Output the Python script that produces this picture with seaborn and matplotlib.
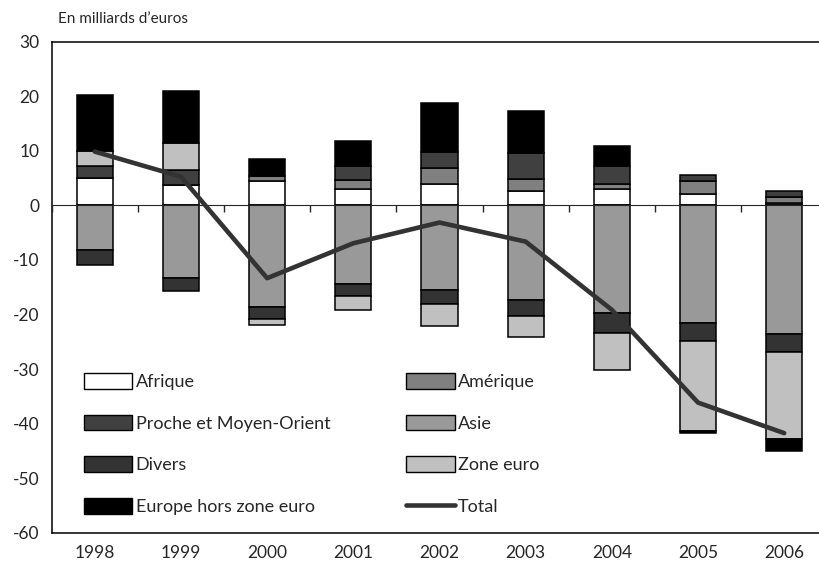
import numpy as np
import matplotlib
matplotlib.use('Agg')
import matplotlib.pyplot as plt
from matplotlib.patches import Patch
from matplotlib.lines import Line2D
import seaborn as sns

# données (en milliards d'euros)
years = ['1998', '1999', '2000', '2001', '2002', '2003', '2004', '2005', '2006']
afrique = [5.1, 3.7, 4.5, 3.0, 3.9, 2.6, 3.0, 2.1, 0.5]
amerique = [0.0, 0.0, 0.8, 1.65, 2.9, 2.3, 0.9, 2.4, 1.0]
proche_orient = [2.1, 2.75, 0.0, 2.6, 3.0, 4.7, 3.35, 1.05, 1.2]
asie = [-8.2, -13.25, -18.6, -14.4, -15.6, -17.3, -19.8, -21.6, -23.6]
divers = [-2.75, -2.45, -2.3, -2.3, -2.45, -3.05, -3.55, -3.25, -3.25]
zone_euro = [2.75, 5.0, -1.05, -2.45, -4.0, -3.8, -6.85, -16.45, -15.9]
europe_hors = [10.25, 9.5, 3.2, 4.5, 8.9, 7.65, 3.65, -0.4, -2.3]
total = [9.85, 5.25, -13.35, -6.95, -3.15, -6.65, -19.15, -36.15, -41.75]

series = [
    ('Afrique', afrique, '#ffffff'),
    ('Amérique', amerique, '#808080'),
    ('Proche et Moyen-Orient', proche_orient, '#404040'),
    ('Asie', asie, '#999999'),
    ('Divers', divers, '#333333'),
    ('Zone euro', zone_euro, '#c0c0c0'),
    ('Europe hors zone euro', europe_hors, '#000000'),
]

sns.set_style('white')
plt.rcParams['font.family'] = ['Lato', 'DejaVu Sans']
plt.rcParams['axes.unicode_minus'] = False

fig = plt.figure(figsize=(8.19, 5.73), dpi=100)
ax = fig.add_axes([0.0631, 0.0703, 0.947, 0.857])

x = np.arange(len(years))
pos_bottom = np.zeros(len(years))
neg_bottom = np.zeros(len(years))
for name, vals, color in series:
    vals = np.array(vals)
    bottom = np.where(vals >= 0, pos_bottom, neg_bottom)
    ax.bar(x, vals, width=0.42, bottom=bottom, color=color,
           edgecolor='black', linewidth=1.1, zorder=2)
    pos_bottom += np.clip(vals, 0, None)
    neg_bottom += np.clip(vals, None, 0)

sns.lineplot(x=x, y=total, color='#333333', linewidth=3.3, ax=ax,
             legend=False, zorder=4)

ax.set_xlim(-0.5, len(years) - 0.5)
ax.set_ylim(-60, 30)
ax.set_yticks(np.arange(-60, 31, 10))
ax.set_xticks(x)
ax.set_xticklabels(years)
ax.tick_params(axis='x', length=0, pad=9, labelsize=12.5)
ax.tick_params(axis='y', direction='in', length=4.5, width=1, pad=9,
               labelsize=12.5)
ax.set_xlabel('')
ax.set_ylabel('')
for s in ax.spines.values():
    s.set_color('black')
    s.set_linewidth(1.1)
ax.spines['right'].set_visible(False)

# axe horizontal au niveau du zéro, graduations entre les années
zero_ax = ax.secondary_xaxis(60 / 90)
zero_ax.set_xticks(np.arange(-0.5, len(years), 1))
zero_ax.set_xticklabels([])
zero_ax.tick_params(direction='in', length=5, width=1)
zero_ax.spines['bottom'].set_linewidth(1.1)
zero_ax.set_zorder(3)

fig.text(0.071, 1 - 19 / 573, 'En milliards d’euros', fontsize=11,
         va='center', ha='left')

handles = {name: Patch(facecolor=color, edgecolor='black', linewidth=1.0)
           for name, vals, color in series}
handles['Total'] = Line2D([0], [0], color='#333333', linewidth=3.3)
order = ['Afrique', 'Proche et Moyen-Orient', 'Divers', 'Europe hors zone euro',
         'Amérique', 'Asie', 'Zone euro', 'Total']
ax.legend([handles[n] for n in order], order, ncol=2, frameon=False,
          loc='upper left', bbox_to_anchor=(0.1026, 1 - 373 / 573),
          bbox_transform=fig.transFigure, borderpad=0, borderaxespad=0,
          fontsize=13, handlelength=2.67, handleheight=0.95,
          handletextpad=0.2, labelspacing=1.37, columnspacing=4.2)

fig.savefig('out.png', dpi=100)
